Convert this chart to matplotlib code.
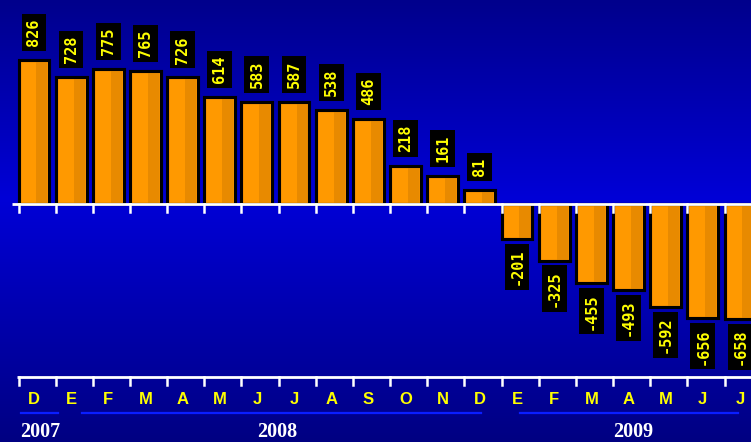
import numpy as np
import matplotlib
matplotlib.use("Agg")
import matplotlib.pyplot as plt
from matplotlib.colors import LinearSegmentedColormap
import matplotlib.transforms as mtransforms

months = ["D", "E", "F", "M", "A", "M", "J", "J", "A", "S", "O", "N", "D",
          "E", "F", "M", "A", "M", "J", "J"]
values = [826, 728, 775, 765, 726, 614, 583, 587, 538, 486, 218, 161, 81,
          -201, -325, -455, -493, -592, -656, -658]
years = ["2007", "2008", "2009"]
# year label centres and underline spans (in bar-index units)
year_pos = [0.58, 6.96, 16.54]
year_lines = [(0.07, 1.06), (1.71, 12.45), (13.5, 19.36)]

W, H = 751, 442
fig = plt.figure(figsize=(W / 100, H / 100), dpi=100)
ax = fig.add_axes([0, 0, 1, 1])

# pixel geometry
px_per_unit_x = 37.16
x0_px = 18.5
zero_px = 204
px_per_val = 0.1743
xlim = (-x0_px / px_per_unit_x, (W - x0_px) / px_per_unit_x)
ylim = (-(H - zero_px) / px_per_val, zero_px / px_per_val)
ax.set_xlim(*xlim)
ax.set_ylim(*ylim)
ax.axis("off")

# background gradient
cmap = LinearSegmentedColormap.from_list(
    "bg", [(0.0, (0, 0, 140 / 255)), (0.45, (0, 0, 215 / 255)), (1.0, (0, 0, 130 / 255))])
grad = np.linspace(0, 1, 256).reshape(-1, 1)
ax.imshow(grad, cmap=cmap, aspect="auto", extent=[xlim[0], xlim[1], ylim[0], ylim[1]],
          origin="upper", zorder=0)
ax.set_xlim(*xlim)
ax.set_ylim(*ylim)

x = np.arange(len(values))
bw = 0.83
ax.bar(x, values, width=bw, align="edge", color="#FF9900", edgecolor="black",
       linewidth=2.2, zorder=3)
ax.bar(x + bw * 0.58, values, width=bw * 0.36, align="edge", color="#E88A00",
       linewidth=0, zorder=3.5)
ax.bar(x, values, width=bw, align="edge", color="none", edgecolor="black",
       linewidth=2.2, zorder=4)

trans = mtransforms.blended_transform_factory(ax.transData, ax.transAxes)

def yfrac(py):
    return 1 - py / H

# zero line and ticks
ax.plot([(12 - x0_px) / px_per_unit_x, xlim[1]], [0, 0], color="white",
        lw=2, zorder=5, solid_capstyle="butt")
for xi in x:
    ax.plot([xi, xi], [yfrac(204), yfrac(212)], transform=trans, color="white",
            lw=1.8, zorder=5)

# bottom axis line and ticks
ax.plot([(17 - x0_px) / px_per_unit_x, xlim[1]], [yfrac(377), yfrac(377)],
        transform=trans, color="white", lw=2, zorder=5, solid_capstyle="butt")
for xi in x:
    ax.plot([xi, xi], [yfrac(377), yfrac(385)], transform=trans, color="white",
            lw=1.8, zorder=5)

# value labels
lab_kw = dict(rotation=90, ha="center", color="#FFFF00", fontsize=11,
              family="DejaVu Sans Mono", fontweight="bold",
              bbox=dict(boxstyle="square,pad=0.32", fc="black", ec="none"),
              zorder=6, textcoords="offset points")
for xi, v in zip(x, values):
    cx = xi + bw / 2
    if v >= 0:
        ax.annotate(str(v), (cx, v), xytext=(0, 10), va="bottom", **lab_kw)
    else:
        ax.annotate(str(v), (cx, v), xytext=(0, -7), va="top", **lab_kw)

# month labels
for xi, m in zip(x, months):
    ax.text(xi + bw / 2, yfrac(399), m, transform=trans, ha="center", va="center",
            color="#FFFF00", fontsize=12, fontweight="bold", family="Liberation Sans",
            zorder=6)

# year underlines and labels
for yr, xp, (a, b) in zip(years, year_pos, year_lines):
    ax.plot([a, b], [yfrac(413), yfrac(413)], transform=trans, color="#0A1EFF",
            lw=1.6, zorder=5)
    ax.text(xp, yfrac(432), yr, transform=trans, ha="center",
            va="center", color="white", fontsize=14.5, fontweight="bold",
            family="Liberation Serif", zorder=6)

fig.savefig("out.png", dpi=100)
